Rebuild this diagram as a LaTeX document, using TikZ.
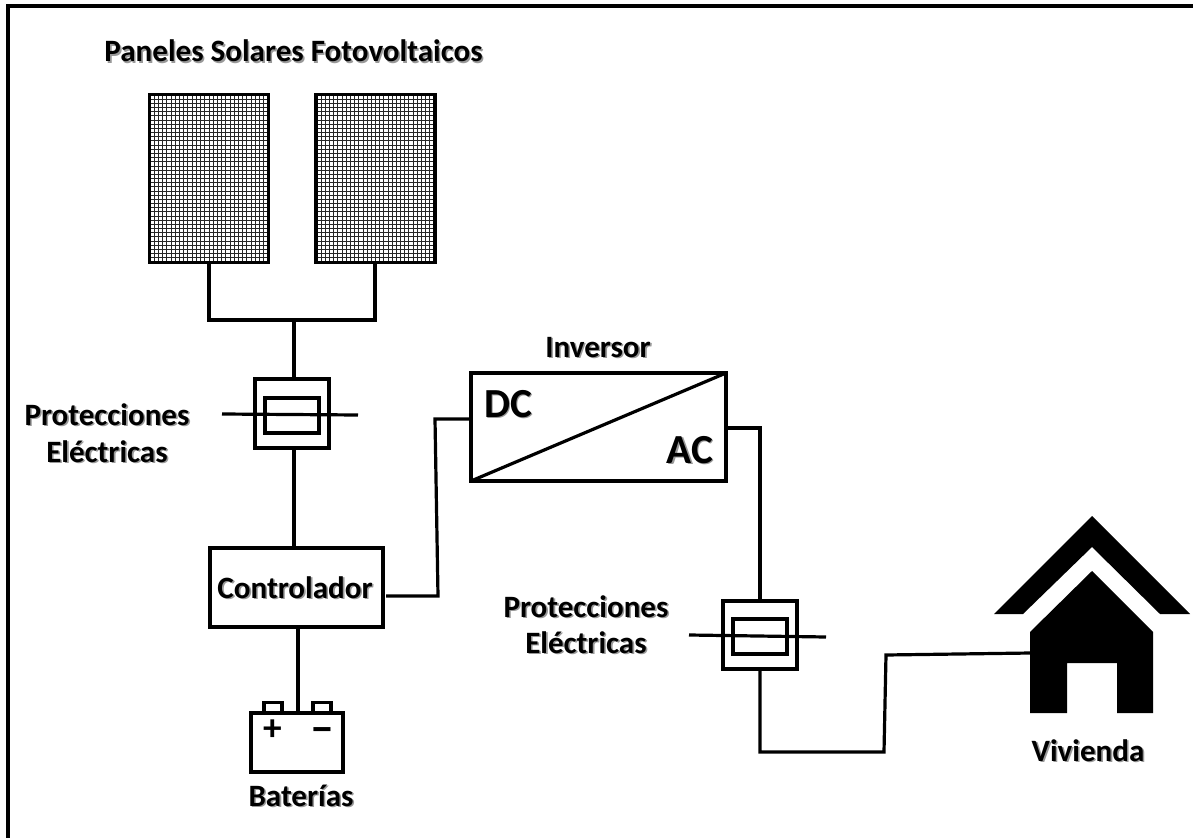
\documentclass[tikz,border=0pt]{standalone}
\usepackage{fontspec}
\setmainfont{Carlito}
\newcommand{\shtext}[1]{\leavevmode\rlap{\kern1.2pt\raisebox{-1.2pt}{\textcolor{black!40}{#1}}}#1}
\tikzset{
  x=0.75pt,y=-0.75pt,
  wire/.style={black,line width=2.4pt,line join=miter},
  boxline/.style={draw=black,line width=2.3pt,fill=white,inner sep=0pt,outer sep=0pt},
  dims/.style 2 args={minimum width=#1*0.75pt,minimum height=#2*0.75pt},
  lab/.style={anchor=base,inner sep=0pt,font=\bfseries\fontsize{23.3}{28}\selectfont,text=black},
  big/.style={anchor=base,inner sep=0pt,font=\bfseries\fontsize{31}{36}\selectfont,text=black},
  sign/.style={anchor=center,inner sep=0pt,font=\bfseries\fontsize{28}{32}\selectfont,text=black},
  minussign/.style={anchor=center,inner sep=0pt,font=\bfseries\fontsize{33}{36}\selectfont,text=black},
  gridline/.style={black!85,line width=0.7pt},
}
\newcommand{\panelgrid}[4]{%
  \foreach \i in {1,...,27}{\draw[gridline] ({#1+(#3-#1)*\i/28},#2) -- ({#1+(#3-#1)*\i/28},#4);}
  \foreach \j in {1,...,39}{\draw[gridline] (#1,{#2+(#4-#2)*\j/40}) -- (#3,{#2+(#4-#2)*\j/40});}
}
\begin{document}
\begin{tikzpicture}
\useasboundingbox (0,0) rectangle (1193,838);
\fill[white] (0,0) rectangle (1193,838);
\coordinate (fa) at (8,838);
\coordinate (fb) at (8,6);
\coordinate (fc) at (1193,6);
\draw[black,line width=2.3pt] (fa) -- (fb) -- (fc);
% panels
\panelgrid{150}{95}{268}{262}
\panelgrid{317}{95}{434}{262}
\node[boxline,fill=none,dims={119.5}{168}] (panelA) at (209,178.5) {};
\node[boxline,fill=none,dims={119}{168}] (panelB) at (375.5,178.5) {};
% fuse 1
\node[boxline,dims={74}{69}] (fuseA) at (292,413.5) {};
\node[boxline,fill=none,dims={54}{35}] (fuseAin) at (292,415.5) {};
\coordinate (fuseAl) at (222,414);
\coordinate (fuseAr) at (358,415);
\draw[wire] (fuseAl) -- (fuseAr);
% controller
\node[boxline,dims={173}{79}] (ctrl) at (296.5,587.5) {};
\node[lab,fill=none] (ctrltxt) at (295,598) {\shtext{Controlador}};
% battery
\node[boxline,dims={18}{11}] (termA) at (273,708) {};
\node[boxline,dims={18}{11}] (termB) at (322,708) {};
\node[boxline,dims={92}{59}] (bat) at (297,742.5) {};
\node[sign] (plus) at (273,730) {+};
\node[minussign] (minus) at (322,736) {−};
% inverter
\node[boxline,dims={255}{108}] (inv) at (598.5,427) {};
\draw[wire] (inv.south west) -- (inv.north east);
\node[big] (dc) at (508,417) {\shtext{DC}};
\node[big] (ac) at (690,463) {\shtext{AC}};
% fuse 2
\node[boxline,dims={74}{68}] (fuseB) at (760,635) {};
\node[boxline,fill=none,dims={54}{35}] (fuseBin) at (760,636.5) {};
\coordinate (fuseBl) at (689,635);
\coordinate (fuseBr) at (826,637);
\draw[wire] (fuseBl) -- (fuseBr);
% house
\fill[black] (1092,516) -- (1190,614) -- (1160,614) -- (1092,547) -- (1023,614) -- (994,614) -- cycle;
\fill[black] (1092,571) -- (1153,632) -- (1153,713) -- (1117,713) -- (1117,663) -- (1067,663) -- (1067,713) -- (1030,713) -- (1030,632) -- cycle;
% connectors
\coordinate (j1) at (294,320);
\coordinate (paA) at (209,320);
\coordinate (paB) at (375,320);
\draw[wire] (panelA.south) -- (paA) -- (paB) -- (paB |- panelB.south);
\draw[wire] (j1) -- (j1 |- fuseA.north);
\draw[wire] (j1 |- fuseA.south) -- (j1 |- ctrl.north);
\coordinate (j2) at (298,627);
\draw[wire] (j2) -- (j2 |- bat.north);
\coordinate (c1) at (386,596);
\coordinate (c2) at (438,596);
\coordinate (c3) at (435,419);
\coordinate (c4) at (inv.west |- c3);
\draw[wire] (c1) -- (c2) -- (c3) -- (c4);
\coordinate (d1) at (inv.east |- 0,428);
\coordinate (d2) at (760,428);
\draw[wire] (d1) -- (d2) -- (fuseB.north);
\coordinate (e1) at (760,752);
\coordinate (e2) at (884,752);
\coordinate (e3) at (886,655);
\coordinate (e4) at (1031,653);
\draw[wire] (fuseB.south) -- (e1) -- (e2) -- (e3) -- (e4);
% labels
\node[lab] (title) at (293.5,62) {\shtext{Paneles Solares Fotovoltaicos}};
\node[lab] (protA) at (107,425) {\shtext{Protecciones}};
\node[lab] (elecA) at (107,462) {\shtext{Eléctricas}};
\node[lab] (protB) at (586,617) {\shtext{Protecciones}};
\node[lab] (elecB) at (586,653) {\shtext{Eléctricas}};
\node[lab] (invt) at (598,357) {\shtext{Inversor}};
\node[lab] (batt) at (301,806) {\shtext{Baterías}};
\node[lab] (viv) at (1088,761) {\shtext{Vivienda}};
\end{tikzpicture}
\end{document}
